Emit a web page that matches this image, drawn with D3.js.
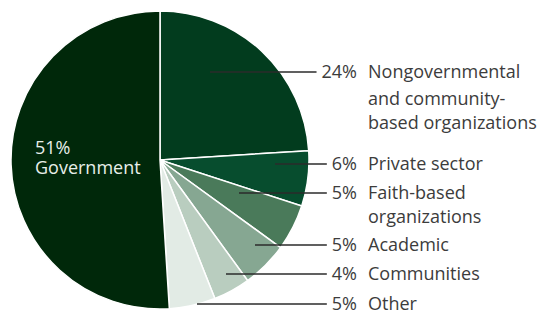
<!DOCTYPE html>
<html>
<head>
<meta charset="utf-8">
<script src="https://cdn.jsdelivr.net/npm/d3@7"></script>
<style>
  html, body { margin: 0; padding: 0; background: #fff; }
  svg { display: block; }
</style>
</head>
<body>
<div id="chart"></div>
<script>
// datos del gráfico
const categories = ["Nongovernmental and community-based organizations", "Private sector", "Faith-based organizations", "Academic", "Communities", "Other", "Government"];
const values = [24, 6, 5, 5, 4, 5, 51];
const labelLines = [
  ["Nongovernmental", "and community-", "based organizations"],
  ["Private sector"],
  ["Faith-based", "organizations"],
  ["Academic"],
  ["Communities"],
  ["Other"],
  ["Government"]
];
const colors = ["#023c1e", "#074d2e", "#4a7a5a", "#86a792", "#b9cdbf", "#e2ebe5", "#00280a"];

// posiciones de las etiquetas (y de la línea, x de inicio de la línea)
const layout = [
  { y: 72, x0: 210 },
  { y: 164, x0: 275 },
  { y: 193, x0: 239 },
  { y: 245, x0: 255 },
  { y: 274, x0: 226 },
  { y: 304, x0: 197 }
];

const width = 544, height = 317;
const cx = 160, cy = 160, radius = 149;
const pctRight = 357, nameX = 368, lineGap = 24, fontSize = 18;

const svg = d3.select("#chart").append("svg")
  .attr("width", width).attr("height", height)
  .attr("font-family", "'Open Sans', sans-serif");

const pie = d3.pie().sort(null).value(d => d);
const arc = d3.arc().innerRadius(0).outerRadius(radius);
const arcs = pie(values);

const g = svg.append("g").attr("transform", `translate(${cx},${cy})`);
g.selectAll("path")
  .data(arcs)
  .enter()
  .append("path")
  .attr("d", arc)
  .attr("fill", (d, i) => colors[i])
  .attr("stroke", "#fff")
  .attr("stroke-width", 1.5)
  .attr("stroke-linejoin", "round");

// etiquetas de la derecha
layout.forEach((p, i) => {
  const pct = svg.append("text")
    .attr("x", pctRight).attr("y", p.y)
    .attr("dy", "0.35em")
    .attr("text-anchor", "end")
    .attr("font-size", fontSize)
    .attr("fill", "#3c3c3c")
    .text(values[i] + "%");
  // la línea termina un poco antes del porcentaje
  const w = pct.node().getComputedTextLength();
  svg.insert("line", "text")
    .attr("x1", p.x0).attr("x2", pctRight - w - 5)
    .attr("y1", p.y).attr("y2", p.y)
    .attr("stroke", "#2b2b2b")
    .attr("stroke-width", 1.5);
  labelLines[i].forEach((t, k) => {
    svg.append("text")
      .attr("x", nameX).attr("y", p.y + k * lineGap + (i === 0 && k > 0 ? 3 : 0))
      .attr("dy", "0.35em")
      .attr("font-size", fontSize)
      .attr("fill", "#3c3c3c")
      .text(t);
  });
});

// etiqueta de Government dentro del sector
const gi = values.length - 1;
svg.append("text")
  .attr("x", 35).attr("y", 148)
  .attr("dy", "0.35em")
  .attr("font-size", fontSize)
  .attr("fill", "#e8efe9")
  .text(values[gi] + "%");
svg.append("text")
  .attr("x", 35).attr("y", 168)
  .attr("dy", "0.35em")
  .attr("font-size", fontSize)
  .attr("fill", "#e8efe9")
  .text(labelLines[gi][0]);
</script>
</body>
</html>
